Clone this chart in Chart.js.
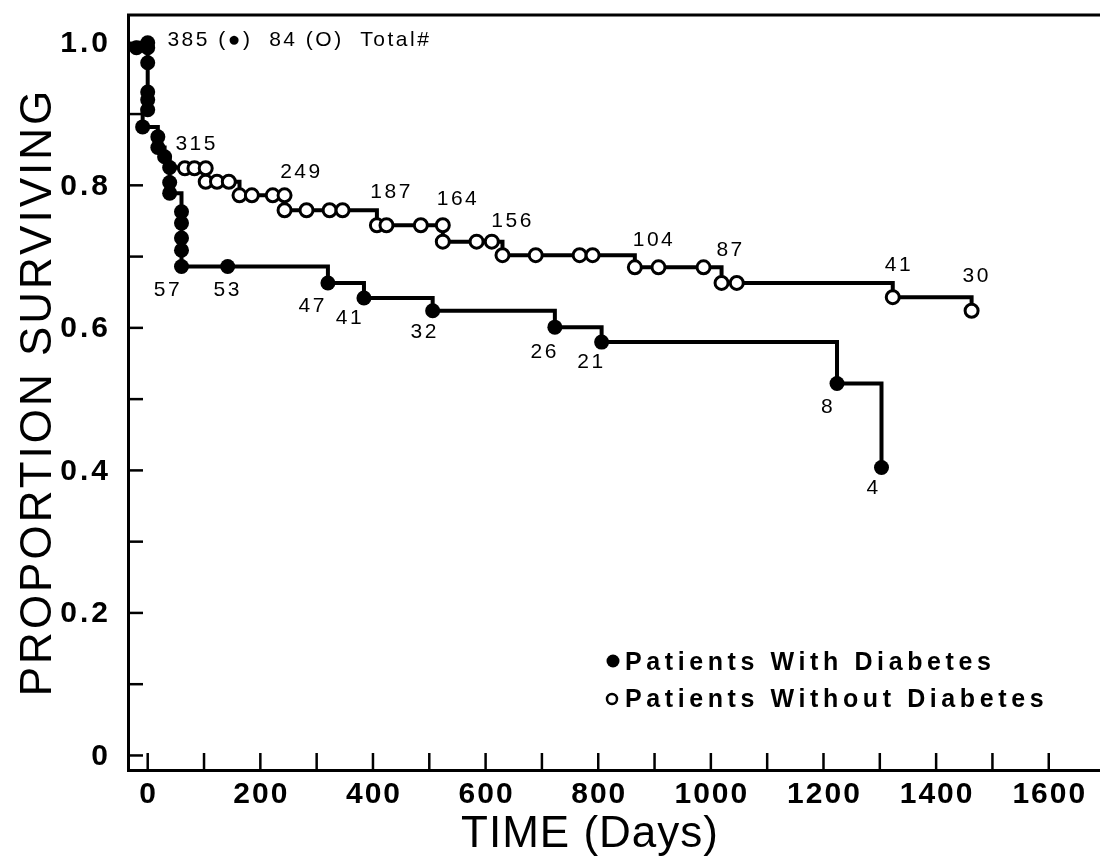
<!DOCTYPE html>
<html>
<head>
<meta charset="utf-8">
<script src="https://cdn.jsdelivr.net/npm/chart.js@4.4.0/dist/chart.umd.min.js"></script>
<style>
    html, body { margin: 0; padding: 0; background: #fff; }
    #wrap { width: 1100px; height: 858px; }
</style>
</head>
<body>
<div id="wrap"><canvas id="myChart" width="1100" height="858"></canvas></div>
<script>
// 糖尿病あり（黒丸）: 日数と生存率
const diabetesDays = [0, -20, 0, 0, 0, 0, 0, -9, 18, 18, 30, 39, 39, 39, 60, 60, 60, 60, 60, 142, 320, 384, 506, 723, 806, 1224, 1303];
const diabetesSurv = [1.0, 0.993, 0.993, 0.972, 0.931, 0.92, 0.906, 0.882, 0.868, 0.853, 0.84, 0.825, 0.804, 0.789, 0.763, 0.747, 0.726, 0.709, 0.686, 0.686, 0.663, 0.642, 0.624, 0.601, 0.58, 0.522, 0.404];

// 糖尿病なし（白丸）: 日数と生存率（先頭の点はマーカーなし）
const noDiabetesDays = [39, 66, 83, 103, 103, 123, 144, 163, 185, 222, 243, 243, 282, 323, 346, 407, 424, 485, 524, 524, 584, 611, 630, 689, 767, 790, 865, 907, 987, 1019, 1046, 1323, 1463];
const noDiabetesSurv = [0.825, 0.824, 0.824, 0.824, 0.805, 0.805, 0.805, 0.786, 0.786, 0.786, 0.786, 0.765, 0.765, 0.765, 0.765, 0.744, 0.744, 0.744, 0.744, 0.721, 0.721, 0.721, 0.702, 0.702, 0.702, 0.702, 0.685, 0.685, 0.685, 0.663, 0.663, 0.643, 0.624];

// リスク人数ラベル（曲線の近く）
const openCountText = ['315', '249', '187', '164', '156', '104', '87', '41', '30'];
const openCountDays = [87, 273, 433, 551, 648, 899, 1035, 1334, 1472];
const openCountSurv = [0.858, 0.819, 0.791, 0.781, 0.750, 0.723, 0.709, 0.688, 0.673];
const filledCountText = ['57', '53', '47', '41', '32', '26', '21', '8', '4'];
const filledCountDays = [36, 142, 293, 359, 492, 705, 788, 1208, 1289];
const filledCountSurv = [0.653, 0.653, 0.631, 0.614, 0.594, 0.566, 0.552, 0.489, 0.375];

// 軸の目盛り
const xTickValues = [0, 100, 200, 300, 400, 500, 600, 700, 800, 900, 1000, 1100, 1200, 1300, 1400, 1500, 1600];
const xTickLabels = ['0', '200', '400', '600', '800', '1000', '1200', '1400', '1600'];
const yTickValues = [0, 0.1, 0.2, 0.3, 0.4, 0.5, 0.6, 0.7, 0.8, 0.9, 1.0];
const yTickLabels = ['0', '0.2', '0.4', '0.6', '0.8', '1.0'];

const headerText = '385 (●)  84 (O)  Total#';
const legendText = ['Patients With Diabetes', 'Patients Without Diabetes'];
const xTitle = 'TIME (Days)';
const yTitle = 'PROPORTION SURVIVING';

const FONT = '"Liberation Sans", Arial, Helvetica, sans-serif';

// スケールの余白を消して描画領域を固定する
function noPadding(s) {
    s.paddingTop = 0;
    s.paddingBottom = 0;
    s.paddingLeft = 0;
    s.paddingRight = 0;
}

// 枠線・内向き目盛り・注記を描くプラグイン
const decorPlugin = {
    id: 'decor',
    beforeDatasetsDraw(chart) {
        const ctx = chart.ctx;
        const area = chart.chartArea;
        const xs = chart.scales.x;
        const ys = chart.scales.y;
        ctx.save();
        ctx.strokeStyle = '#000';
        // 上の枠線
        ctx.lineWidth = 3;
        ctx.beginPath();
        ctx.moveTo(area.left - 1, area.top);
        ctx.lineTo(area.right, area.top);
        ctx.stroke();
        // 内向きの目盛り
        ctx.lineWidth = 2.5;
        xTickValues.forEach(v => {
            const px = xs.getPixelForValue(v);
            ctx.beginPath();
            ctx.moveTo(px, area.bottom);
            ctx.lineTo(px, area.bottom - 17);
            ctx.stroke();
        });
        yTickValues.forEach(v => {
            const py = ys.getPixelForValue(v);
            ctx.beginPath();
            ctx.moveTo(area.left, py);
            ctx.lineTo(area.left + 15, py);
            ctx.stroke();
        });

        // 目盛りラベル
        ctx.fillStyle = '#000';
        ctx.font = 'bold 30px ' + FONT;
        ctx.textBaseline = 'middle';
        ctx.textAlign = 'center';
        ctx.letterSpacing = '2px';
        xTickLabels.forEach(t => {
            ctx.fillText(t, xs.getPixelForValue(Number(t)) + 1, area.bottom + 25);
        });
        ctx.textAlign = 'right';
        ctx.letterSpacing = '3px';
        yTickLabels.forEach(t => {
            ctx.fillText(t, area.left - 20 + 3, ys.getPixelForValue(Number(t)) + 1);
        });
        ctx.restore();
    },
    afterDatasetsDraw(chart) {
        const ctx = chart.ctx;
        const xs = chart.scales.x;
        const ys = chart.scales.y;
        ctx.save();
        ctx.fillStyle = '#000';
        ctx.strokeStyle = '#000';
        ctx.textAlign = 'center';
        ctx.textBaseline = 'middle';
        ctx.font = '21px ' + FONT;
        ctx.letterSpacing = '2.5px';
        openCountText.forEach((t, i) => {
            ctx.fillText(t, xs.getPixelForValue(openCountDays[i]), ys.getPixelForValue(openCountSurv[i]));
        });
        filledCountText.forEach((t, i) => {
            ctx.fillText(t, xs.getPixelForValue(filledCountDays[i]), ys.getPixelForValue(filledCountSurv[i]));
        });
        // 見出し（総数）
        ctx.textAlign = 'left';
        ctx.fillText(headerText, xs.getPixelForValue(35), ys.getPixelForValue(1.004));

        // 凡例
        ctx.font = 'bold 25px ' + FONT;
        ctx.letterSpacing = '4.6px';
        ctx.fillText(legendText[0], 625, 663);
        ctx.fillText(legendText[1], 625, 700);
        ctx.letterSpacing = '0px';
        ctx.beginPath();
        ctx.arc(613, 661, 6.5, 0, Math.PI * 2);
        ctx.fill();
        ctx.lineWidth = 2.5;
        ctx.beginPath();
        ctx.arc(612, 699, 5, 0, Math.PI * 2);
        ctx.stroke();

        // 軸タイトル
        ctx.font = '44px ' + FONT;
        ctx.textAlign = 'center';
        ctx.letterSpacing = '1px';
        ctx.fillText(xTitle, 590, 835);
        ctx.letterSpacing = '3px';
        ctx.translate(39, 392);
        ctx.rotate(-Math.PI / 2);
        ctx.fillText(yTitle, 0, 0);
        ctx.restore();
    }
};

function renderChart() {
    const ctx = document.getElementById('myChart').getContext('2d');
    const filledPoints = diabetesDays.map((d, i) => ({ x: d, y: diabetesSurv[i] }));
    const openPoints = noDiabetesDays.map((d, i) => ({ x: d, y: noDiabetesSurv[i] }));
    const openRadius = openPoints.map((p, i) => (i === 0 ? 0 : 6.5));

    new Chart(ctx, {
        type: 'line',
        data: {
            datasets: [{
                label: legendText[0],
                data: filledPoints,
                stepped: true,
                borderColor: '#000',
                borderWidth: 4,
                pointRadius: 7.5,
                pointBackgroundColor: '#000',
                pointBorderWidth: 0,
                fill: false
            }, {
                label: legendText[1],
                data: openPoints,
                stepped: true,
                borderColor: '#000',
                borderWidth: 4,
                pointRadius: openRadius,
                pointBackgroundColor: '#fff',
                pointBorderColor: '#000',
                pointBorderWidth: 3,
                fill: false
            }]
        },
        options: {
            responsive: false,
            animation: false,
            layout: { autoPadding: false, padding: { top: 15, right: 0, left: 0, bottom: 0 } },
            plugins: {
                legend: { display: false },
                tooltip: { enabled: false }
            },
            scales: {
                x: {
                    type: 'linear',
                    min: -35,
                    max: 1691,
                    afterBuildTicks: s => { s.ticks = xTickValues.map(v => ({ value: v })); },
                    afterFit: s => { s.height = 88; noPadding(s); },
                    grid: { display: false, drawTicks: false },
                    border: { display: true, color: '#000', width: 3 },
                    ticks: { display: false }
                },
                y: {
                    type: 'linear',
                    min: -0.0204,
                    max: 1.039,
                    afterBuildTicks: s => { s.ticks = yTickValues.map(v => ({ value: v })); },
                    afterFit: s => { s.width = 128; noPadding(s); },
                    grid: { display: false, drawTicks: false },
                    border: { display: true, color: '#000', width: 3 },
                    ticks: { display: false }
                }
            }
        },
        plugins: [decorPlugin]
    });
}

document.addEventListener('DOMContentLoaded', () => {
    renderChart();
});
</script>
</body>
</html>
